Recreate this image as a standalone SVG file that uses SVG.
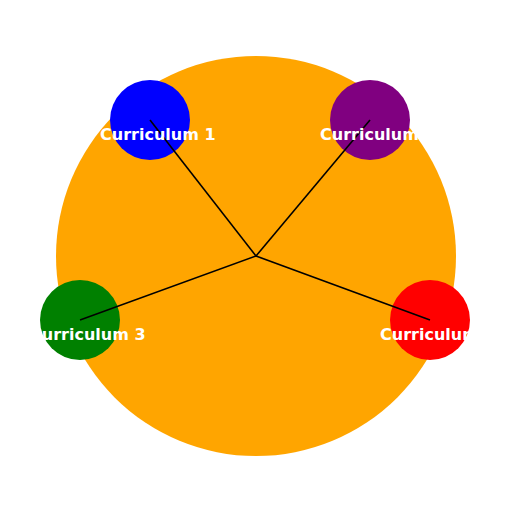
<svg xmlns="http://www.w3.org/2000/svg" width="512" height="512" viewBox="0 0 512 512">
<style>
.node{stroke:none}
.lbl{font-family:"DejaVu Sans",sans-serif;font-weight:bold;font-size:16px;fill:#fff}
.edge{stroke:#000;stroke-width:1.6;fill:none}
</style>
<rect width="512" height="512" fill="#fff"/>
<g id="hub"><circle cx="256" cy="256" r="200" fill="#FFA500"/></g>
<g id="node1"><circle class="node" cx="150" cy="120" r="40" fill="#0000FF"/></g>
<g id="node2"><circle class="node" cx="370" cy="120" r="40" fill="#800080"/></g>
<g id="node3"><circle class="node" cx="80" cy="320" r="40" fill="#008000"/></g>
<g id="node4"><circle class="node" cx="430" cy="320" r="40" fill="#FF0000"/></g>
<g id="connectors">
<line class="edge" x1="256" y1="256" x2="150" y2="120"/>
<line class="edge" x1="256" y1="256" x2="370" y2="120"/>
<line class="edge" x1="256" y1="256" x2="80" y2="320"/>
<line class="edge" x1="256" y1="256" x2="430" y2="320"/>
</g>
<g id="labels">
<text class="lbl" x="100" y="140">Curriculum 1</text>
<text class="lbl" x="320" y="140">Curriculum 2</text>
<text class="lbl" x="30" y="340">Curriculum 3</text>
<text class="lbl" x="380" y="340">Curriculum 4</text>
</g>
</svg>
